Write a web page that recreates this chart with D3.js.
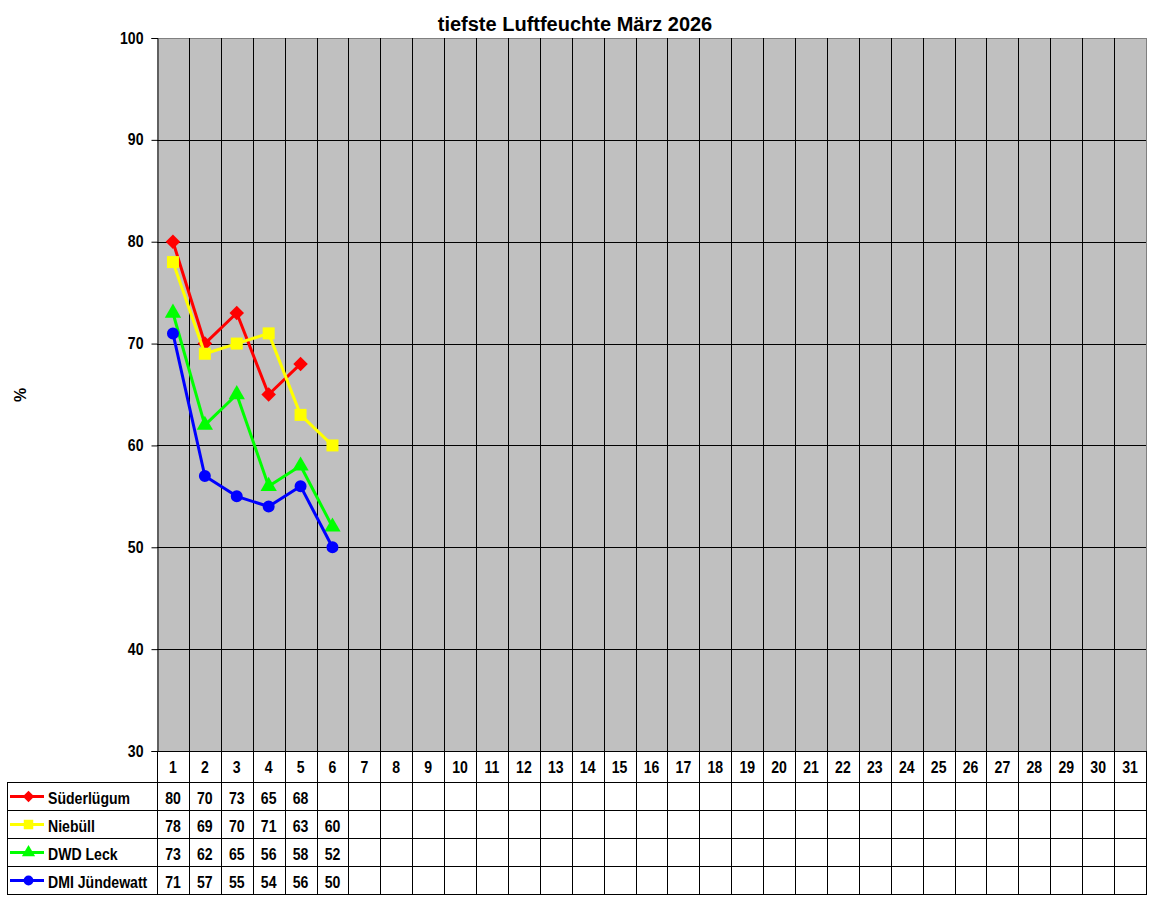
<!DOCTYPE html>
<html>
<head>
<meta charset="utf-8">
<script src="https://cdn.jsdelivr.net/npm/d3@7"></script>
<style>
  body { margin: 0; background: #fff; }
  svg { font-family: "Liberation Sans", Arial, sans-serif; }
</style>
</head>
<body>
<svg id="chart" width="1152" height="900"></svg>
<script>
const days = d3.range(1, 32);
const seriesNames = ["Süderlügum", "Niebüll", "DWD Leck", "DMI Jündewatt"];
const seriesColors = ["#ff0000", "#ffff00", "#00ff00", "#0000ff"];
const seriesShapes = [d3.symbolDiamond2, d3.symbolSquare, d3.symbolTriangle, d3.symbolCircle];
const suederluegum = [80, 70, 73, 65, 68];
const niebuell = [78, 69, 70, 71, 63, 60];
const dwdLeck = [73, 62, 65, 56, 58, 52];
const dmiJuendewatt = [71, 57, 55, 54, 56, 50];
const yTicks = [30, 40, 50, 60, 70, 80, 90, 100];

const allSeries = [suederluegum, niebuell, dwdLeck, dmiJuendewatt];

const plotLeft = 157, plotRight = 1146, plotTop = 38, plotBottom = 751;
const headH = 31, rowH = 28;
const tableLeft = 7;
const squeeze = 0.88;   // the original text is a bit narrower than Liberation Sans

const markerSize = [135, 144, 115, 113];
const keySize = [85, 90, 75, 75];

const svg = d3.select("#chart");

const x = d3.scaleBand().domain(days).range([plotLeft, plotRight]);
const y = d3.scaleLinear().domain([30, 100]).range([plotBottom, plotTop]);

function label(sel, tx, ty, anchor) {
  return sel.append("text")
    .attr("transform", `translate(${tx},${ty}) scale(${squeeze},1)`)
    .attr("text-anchor", anchor || "middle")
    .attr("font-size", 16).attr("font-weight", "bold");
}

// plot background
svg.append("rect")
  .attr("x", plotLeft).attr("y", plotTop)
  .attr("width", plotRight - plotLeft).attr("height", plotBottom - plotTop)
  .attr("fill", "#c0c0c0");

// horizontal grid
svg.append("g")
  .selectAll("line")
  .data(yTicks.slice(1))
  .join("line")
  .attr("x1", plotLeft).attr("x2", plotRight)
  .attr("y1", d => Math.round(y(d)) + 0.5).attr("y2", d => Math.round(y(d)) + 0.5)
  .attr("stroke", d => d === 100 ? "#808080" : "#000");

// vertical lines through plot and table
const tableBottom = plotBottom + headH + rowH * 4;
svg.append("g")
  .selectAll("line")
  .data(days.slice(1))
  .join("line")
  .attr("x1", d => Math.round(x(d)) + 0.5).attr("x2", d => Math.round(x(d)) + 0.5)
  .attr("y1", plotTop).attr("y2", tableBottom)
  .attr("stroke", "#000");

// right border
svg.append("line")
  .attr("x1", plotRight + 0.5).attr("x2", plotRight + 0.5)
  .attr("y1", plotTop).attr("y2", plotBottom)
  .attr("stroke", "#808080");
svg.append("line")
  .attr("x1", plotRight + 0.5).attr("x2", plotRight + 0.5)
  .attr("y1", plotBottom).attr("y2", tableBottom)
  .attr("stroke", "#000");

// y axis
const ya = svg.append("g")
  .attr("transform", `translate(${plotLeft + 0.5},0)`)
  .call(d3.axisLeft(y).tickValues(yTicks).tickSize(6));
ya.select(".domain").attr("stroke", "#000");
ya.selectAll(".tick line").attr("stroke", "#000");
ya.selectAll(".tick text")
  .attr("x", null)
  .attr("transform", `translate(-14,0) scale(${squeeze},1)`)
  .attr("font-size", 16).attr("font-weight", "bold").attr("fill", "#000")
  .attr("font-family", "Liberation Sans, Arial, sans-serif");
svg.append("line")
  .attr("x1", plotLeft + 0.5).attr("x2", plotLeft + 0.5)
  .attr("y1", plotBottom).attr("y2", tableBottom)
  .attr("stroke", "#000");

// table grid
const rowLines = d3.range(0, 5).map(i => plotBottom + headH + i * rowH);
svg.append("g")
  .selectAll("line")
  .data(rowLines)
  .join("line")
  .attr("x1", tableLeft).attr("x2", plotRight + 1)
  .attr("y1", d => d + 0.5).attr("y2", d => d + 0.5)
  .attr("stroke", "#000");
svg.append("line")
  .attr("x1", plotLeft).attr("x2", plotRight + 1)
  .attr("y1", plotBottom + 0.5).attr("y2", plotBottom + 0.5)
  .attr("stroke", "#000");
svg.append("line")
  .attr("x1", tableLeft + 0.5).attr("x2", tableLeft + 0.5)
  .attr("y1", plotBottom + headH).attr("y2", tableBottom)
  .attr("stroke", "#000");

// day header
days.forEach(d => {
  label(svg, x(d) + x.bandwidth() / 2, plotBottom + 22).text(d);
});

// table values + legend keys
allSeries.forEach((vals, i) => {
  const rowY = plotBottom + headH + i * rowH;
  vals.forEach((v, j) => {
    label(svg, x(days[j]) + x.bandwidth() / 2, rowY + 22).text(v);
  });

  const ky = rowY + rowH / 2 + 0.5;
  svg.append("line")
    .attr("x1", 10).attr("x2", 44)
    .attr("y1", ky).attr("y2", ky)
    .attr("stroke", seriesColors[i]).attr("stroke-width", 3);
  svg.append("path")
    .attr("d", d3.symbol().type(seriesShapes[i]).size(keySize[i])())
    .attr("transform", `translate(28.5,${ky})`)
    .attr("fill", seriesColors[i]);
  label(svg, 48, rowY + 22, "start").text(seriesNames[i]);
});

// series lines and markers
const line = d3.line()
  .x((d, j) => x(days[j]) + x.bandwidth() / 2)
  .y(d => y(d));

allSeries.forEach((vals, i) => {
  svg.append("path")
    .datum(vals)
    .attr("d", line)
    .attr("fill", "none")
    .attr("stroke", seriesColors[i])
    .attr("stroke-width", 3)
    .attr("stroke-linejoin", "round");
  svg.append("g")
    .selectAll("path")
    .data(vals)
    .join("path")
    .attr("d", d3.symbol().type(seriesShapes[i]).size(markerSize[i])())
    .attr("transform", (d, j) => `translate(${x(days[j]) + x.bandwidth() / 2},${y(d)})`)
    .attr("fill", seriesColors[i]);
});

// title
svg.append("text")
  .attr("x", 575).attr("y", 31)
  .attr("text-anchor", "middle")
  .attr("font-size", 20).attr("font-weight", "bold")
  .text("tiefste Luftfeuchte März 2026");

// y label
svg.append("text")
  .attr("transform", "translate(26,395) rotate(-90)")
  .attr("text-anchor", "middle")
  .attr("font-size", 16).attr("font-weight", "bold")
  .text("%");
</script>
</body>
</html>
